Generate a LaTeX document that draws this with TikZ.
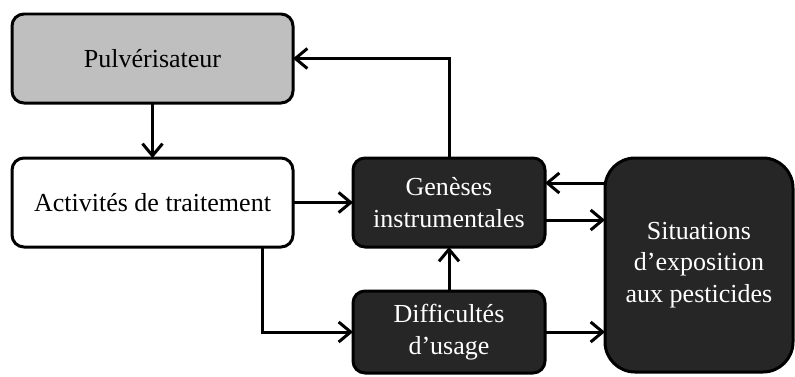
\documentclass[tikz,border=0pt]{standalone}
\usepackage{fontspec}
\setmainfont{Liberation Serif}
\usetikzlibrary{arrows.meta}

\begin{document}
\begin{tikzpicture}[
    box/.style={draw, line width=0.075cm, rounded corners=0.3cm, align=center,
      inner sep=0pt, outer sep=0pt, font=\fontsize{18.5}{22.4}\selectfont},
    lightbox/.style={box, fill=white, text=black},
    greybox/.style={box, fill=black!25, text=black},
    darkbox/.style={box, fill=black!85, text=white},
    >={Straight Barb[length=0.3cm, width=0.5cm, line width=0.075cm]},
    link/.style={->, line width=0.075cm}
  ]
  \useasboundingbox (0,0) rectangle (19.875,9.4);

  \node[greybox, minimum width=7.025cm, minimum height=2.225cm] (pul) at (3.8125,7.9375) {Pulvérisateur};
  \node[lightbox, minimum width=7.025cm, minimum height=2.225cm] (act) at (3.8125,4.3375) {Activités de traitement};
  \node[darkbox, minimum width=4.8cm, minimum height=2.225cm] (gen) at (11.225,4.3375) {Genèses\\instrumentales};
  \node[darkbox, minimum width=4.8cm, minimum height=2.05cm] (dif) at (11.225,1.1) {Difficultés\\d’usage};
  \node[darkbox, rounded corners=0.75cm, minimum width=4.7cm, minimum height=5.35cm] (sit) at (17.475,2.775) {Situations\\d’exposition\\aux pesticides};

  \coordinate (g1) at ([yshift=0.4875cm]gen.east);
  \coordinate (g2) at ([yshift=-0.4375cm]gen.east);

  \draw[link] (pul) -- (act);
  \draw[link] (act) -- (gen);
  \draw[link] ([xshift=-0.775cm]act.south east) |- (dif.west);
  \draw[link] (gen.north) |- (pul.east);
  \draw[link] (sit.west |- g1) -- (g1);
  \draw[link] (g2) -- (sit.west |- g2);
  \draw[link] (dif) -- (gen);
  \draw[link] (dif.east) -- (sit.west |- dif.east);
\end{tikzpicture}
\end{document}
